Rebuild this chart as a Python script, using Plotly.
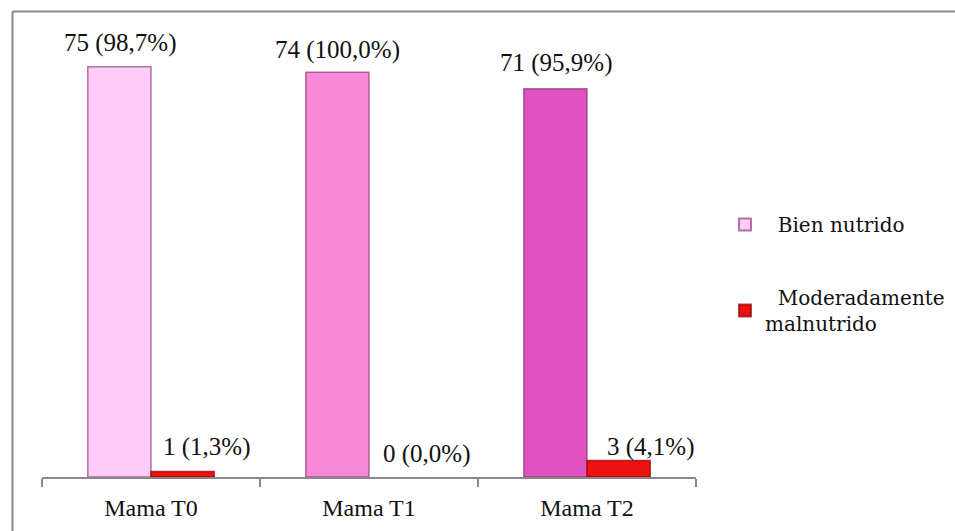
import plotly.graph_objects as go

categories = ["Mama T0", "Mama T1", "Mama T2"]
bien_nutrido = [75, 74, 71]
bien_pct = ["98,7%", "100,0%", "95,9%"]
mod_malnutrido = [1, 0, 3]
mod_pct = ["1,3%", "0,0%", "4,1%"]
series_names = ["Bien nutrido", "Moderadamente<br>malnutrido"]

bien_colors = ["#FFCCF9", "#F78AD8", "#E052BF"]
red = "#EE1111"

# plot geometry (px)
L, R, T, B = 42, 259, 20, 54
W, H = 955, 531
plot_w = W - L - R
plot_h = H - T - B
ymax = plot_h / 5.47

pad = "\u00a0\u00a0"

fig = go.Figure()
fig.add_trace(go.Bar(
    x=categories, y=bien_nutrido, name=pad + series_names[0],
    marker=dict(color=bien_colors, line=dict(color="rgba(120,40,100,0.6)", width=1.5)),
    legendgroup="a",
))
fig.add_trace(go.Bar(
    x=categories, y=mod_malnutrido, name=pad + series_names[1],
    marker=dict(color=red, line=dict(color="rgba(140,0,0,0.7)",
                                     width=[1.5 if v > 0 else 0 for v in mod_malnutrido])),
    legendgroup="b",
))

lab_font = dict(family="Liberation Serif", size=25, color="#111111")
bien_yshift = [8, 6, 10]
for c, v, p, ys in zip(categories, bien_nutrido, bien_pct, bien_yshift):
    fig.add_annotation(x=c, y=v, text=f"{v} ({p})", showarrow=False,
                       xref="x", yref="y", yanchor="bottom", yshift=ys, xshift=-31.5,
                       font=lab_font)
red_xshift = [55, 57, 63]
red_yshift = [9, 7, -2]
for c, v, p, xs, ys in zip(categories, mod_malnutrido, mod_pct, red_xshift, red_yshift):
    fig.add_annotation(x=c, y=v, text=f"{v} ({p})", showarrow=False,
                       xref="x", yref="y", yanchor="bottom", yshift=ys, xshift=xs,
                       font=lab_font)

def px_x(px):
    return (px - L) / plot_w

def px_y(py):
    return (H - B - py) / plot_h

# outer chart border (top and left edges visible)
fig.add_shape(type="line", xref="paper", yref="paper",
              x0=px_x(12.5), x1=px_x(960), y0=px_y(11.5), y1=px_y(11.5),
              line=dict(color="#888888", width=2))
fig.add_shape(type="line", xref="paper", yref="paper",
              x0=px_x(12.5), x1=px_x(12.5), y0=px_y(11.5), y1=px_y(540),
              line=dict(color="#888888", width=2))

fig.update_layout(
    width=W, height=H,
    margin=dict(l=L, r=R, t=T, b=B, autoexpand=False),
    paper_bgcolor="white", plot_bgcolor="white",
    barmode="group", bargap=0.42, bargroupgap=0,
    showlegend=True,
    legend=dict(x=px_x(725), y=px_y(205), xanchor="left", yanchor="top",
                font=dict(family="DejaVu Serif", size=20, color="#111111"),
                tracegroupgap=44, itemsizing="constant", bgcolor="rgba(0,0,0,0)"),
    xaxis=dict(type="category", showline=True, linecolor="#888888", linewidth=1.5,
               ticks="outside", tickson="boundaries", ticklen=8, tickcolor="#888888",
               tickwidth=1.5, ticklabelstandoff=8,
               tickfont=dict(family="Liberation Serif", size=24, color="#111111"),
               showgrid=False, range=[-0.5, 2.5]),
    yaxis=dict(range=[0, ymax], visible=False, showgrid=False),
)

fig.write_html("out.html")
